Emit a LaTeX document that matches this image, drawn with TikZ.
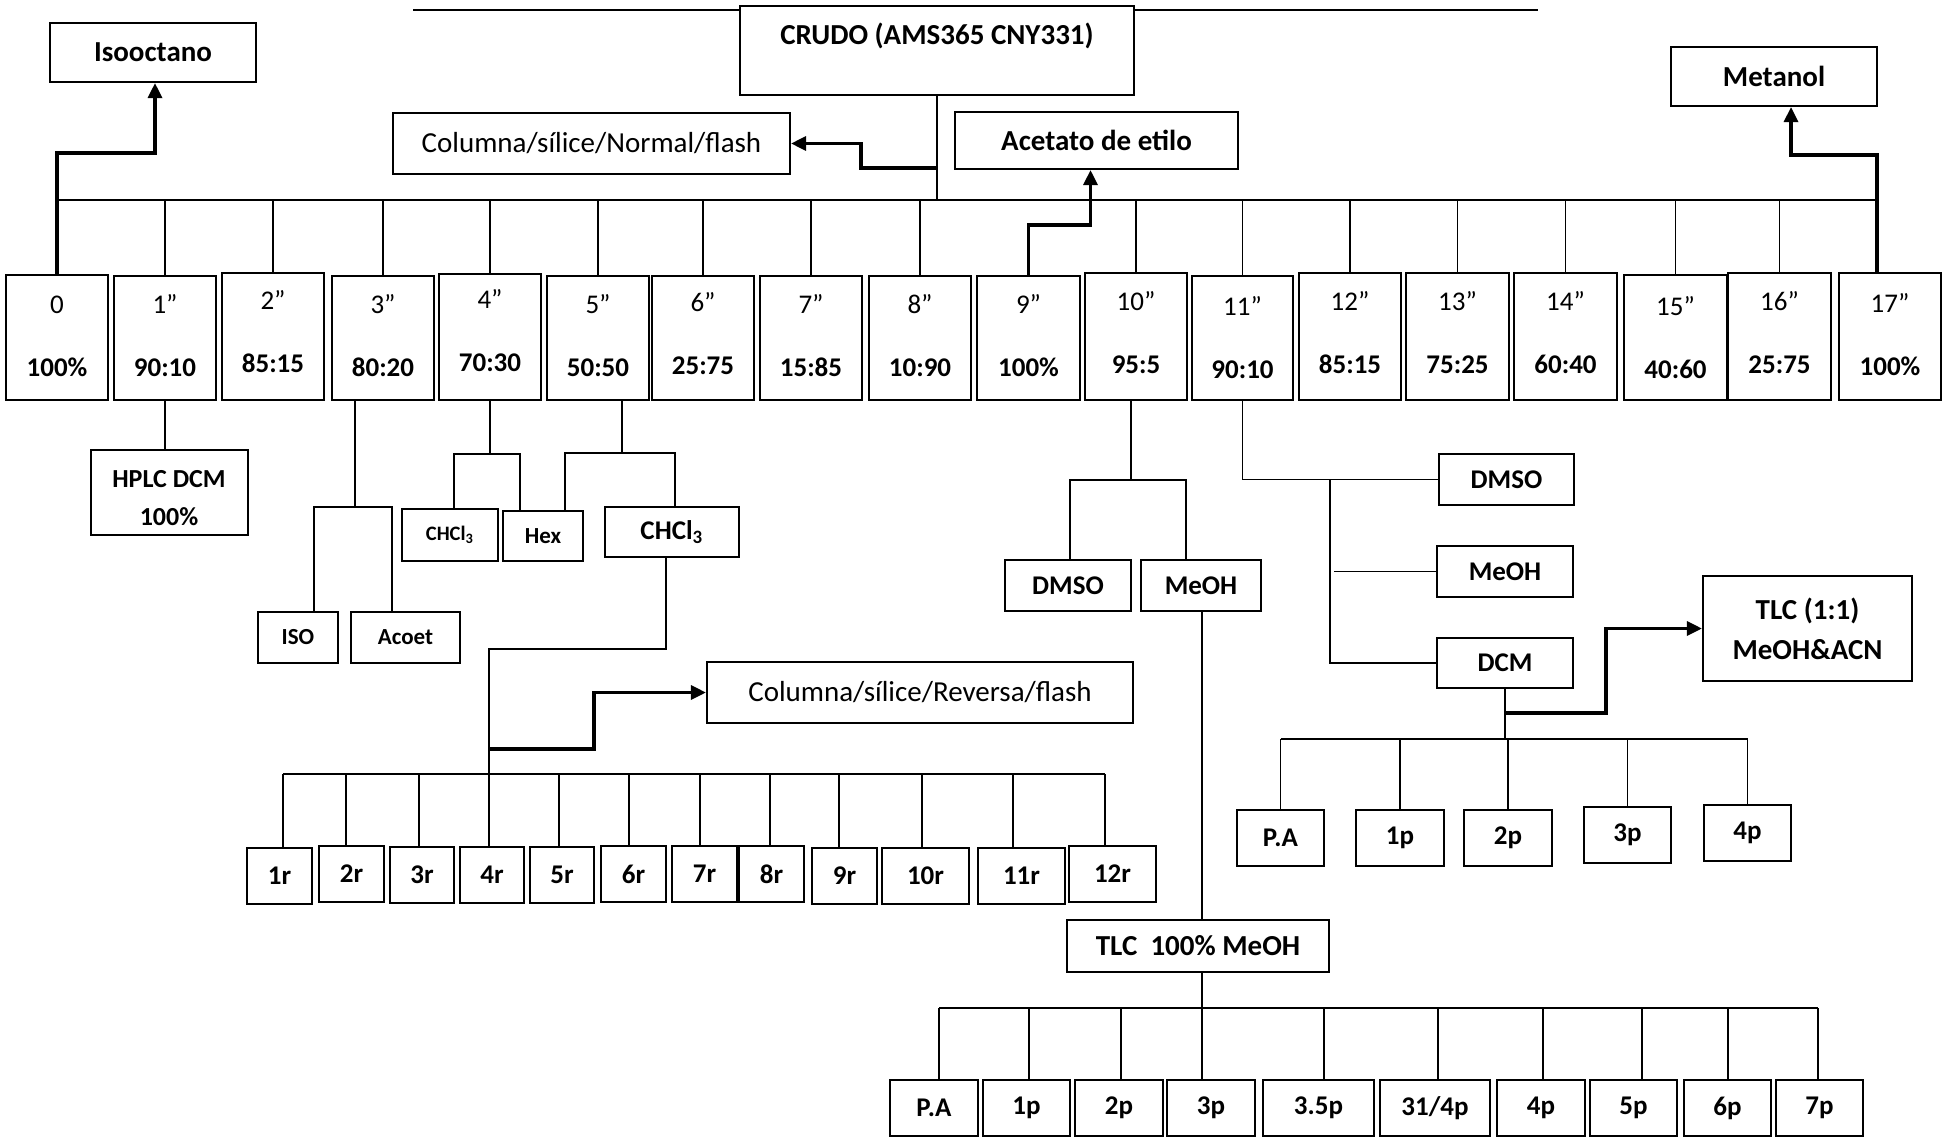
\documentclass[tikz,border=0pt]{standalone}
\usepackage{fontspec}
\setmainfont{Carlito}
\usetikzlibrary{arrows.meta,calc}

% box given by its corners (x1,y1) and (x2,y2), named, with text
\newcommand\boxat[7][]{%
  \node[box,#1,minimum width={(#4-#2)*0.4pt},minimum height={(#5-#3)*0.4pt}]
    (#6) at ({(#2+#4)/2},{(#3+#5)/2}) {#7};}

\begin{document}
\begin{tikzpicture}[x=0.4pt,y=-0.4pt,
  box/.style={draw,line width=0.85pt,fill=white,inner sep=0pt,align=center,
    font=\bfseries\fontsize{10.8}{13}\selectfont},
  big/.style={font=\bfseries\fontsize{11.6}{16}\selectfont},
  plain/.style={font=\fontsize{11.6}{14}\selectfont},
  small/.style={font=\bfseries\fontsize{9.2}{11}\selectfont},
  tiny/.style={font=\bfseries\fontsize{8.2}{10}\selectfont},
  link/.style={line width=0.7pt},
  busline/.style={line width=0.8pt},
  arr/.style={line width=1.3pt,-{Triangle[width=5.6pt,length=6pt]}},
  rowtxt/.style={align=center,inner sep=0pt,font=\fontsize{10.8}{25.2}\selectfont},
]
\useasboundingbox (0,0) rectangle (1944,1139);

% ---------- header ----------
\boxat{740}{6}{1134}{95}{crudo}{}
\node[big,inner sep=0pt] (crudotxt) at (937,36) {CRUDO (AMS365 CNY331)};
\coordinate (ruleL) at (413,10);
\coordinate (ruleR) at (1538,10);
\draw[line width=0.9pt] (ruleL) -- (crudo.west |- ruleL);
\draw[line width=0.9pt] (crudo.east |- ruleR) -- (ruleR);

\boxat[big]{50}{23}{256}{82}{iso}{Isooctano}
\boxat[plain]{393}{113}{790}{174}{colN}{Columna/sílice/Normal/flash}
\boxat[big]{955}{112}{1238}{169}{acet}{Acetato de etilo}
\boxat[big]{1671}{47}{1877}{106}{meta}{Metanol}

% ---------- fractions of the first column ----------
\foreach \nm/\xa/\xb/\ty/\dy/\la/\lb in {
  0/6/108/275/0/0/100\%,
  1/114/216/276/0/1”/90:10,
  2/222/324/273/-4/2”/85:15,
  3/332/434/276/0/3”/80:20,
  4/439/541/274/-5/4”/70:30,
  5/547/649/276/0/5”/50:50,
  6/652/754/276/-2/6”/25:75,
  7/760/862/276/0/7”/15:85,
  8/869/971/276/0/8”/10:90,
  9/977/1080/276/0/9”/100\%,
  10/1085/1187/273/-3/10”/95:5,
  11/1192/1293/276/2/11”/90:10,
  12/1299/1401/273/-3/12”/85:15,
  13/1406/1509/273/-3/13”/75:25,
  14/1514/1617/273/-3/14”/60:40,
  15/1624/1727/275/2/15”/40:60,
  16/1728/1831/273/-3/16”/25:75,
  17/1839/1941/273/-1/17”/100\%}
{
  \node[draw,line width=0.85pt,inner sep=0pt,
        minimum width={(\xb-\xa)*0.4pt},minimum height={(400-\ty)*0.4pt}]
        (b\nm) at ({(\xa+\xb)/2},{(\ty+400)/2}) {};
  \node[rowtxt] (l\nm) at ({(\xa+\xb)/2},{336+\dy}) {\la\\\textbf{\lb}};
}

\coordinate (s17) at (1877,273);
\draw[busline] (b0.north |- 0,200) -- (s17 |- 0,200);
\draw[link] (crudo.south) -- (crudo.south |- 0,200);
\foreach \nm in {1,2,3,4,5,6,7,8,10,11,12,13,14,15,16}
  \draw[link] (b\nm.north) -- (b\nm.north |- 0,200);

\draw[arr] (b0.north) -- (b0.north |- 0,153) -| ($(iso.south)+(2,0)$);
\draw[arr] (b9.north) -- (b9.north |- 0,225) -| ($(acet.south)+(-6,0)$);
\draw[arr] (s17) -- (s17 |- 0,155) -| ($(meta.south)+(17,0)$);
\draw[arr] (crudo.south |- 0,168) -- (861,168) |- (colN.east);

% ---------- 1'' ----------
\boxat{91}{450}{248}{535}{hplc}{}
\node[align=center,inner sep=0pt,font=\bfseries\fontsize{10.4}{15.2}\selectfont]
  (hplctxt) at (169,498) {HPLC DCM\\100\%};
\draw[link] (b1.south) -- (b1.south |- hplc.north);

% ---------- 3'' ----------
\boxat[small]{258}{612}{338}{663}{isob}{ISO}
\boxat[small]{351}{612}{460}{663}{acoet}{Acoet}
\draw[link] (b3.south -| 355,0) -- (355,507);
\draw[link] (isob.north -| 314,0) -- (314,507) -- (392,507) -- (acoet.north -| 392,0);

% ---------- 4'' ----------
\boxat[tiny]{402}{509}{498}{561}{chs}{CHCl\textsubscript{3}}
\boxat[small]{503}{511}{583}{561}{hex}{Hex}
\draw[link] (b4.south) -- (b4.south |- 0,454);
\draw[link] (chs.north -| 454,0) -- (454,454) -- (520,454) -- (hex.north -| 520,0);

% ---------- 5'' ----------
\boxat{605}{507}{739}{557}{chb}{CHCl\textsubscript{3}}
\draw[link] (b5.south -| 622,0) -- (622,453);
\draw[link] (hex.north -| 565,0) -- (565,453) -- (675,453) -- (chb.north -| 675,0);

\boxat[plain]{707}{662}{1133}{723}{colR}{Columna/sílice/Reversa/flash}
\foreach \rr/\xa/\xb/\ya/\sx in {1/247/312/848/283, 2/319/384/846/346,
    3/390/454/847/419, 4/460/524/847/489, 5/530/594/847/559, 6/601/666/846/629,
    7/672/737/846/700, 8/739/804/846/770, 9/812/877/848/839, 10/882/969/848/922,
    11/978/1065/848/1013, 12/1069/1156/846/1105}
{
  \boxat{\xa}{\ya}{\xb}{\ya+56}{r\rr}{\rr r}
  \draw[link] (r\rr.north -| \sx,0) -- (\sx,774);
}
\coordinate (rbusL) at (283,774);
\coordinate (rbusR) at (1105,774);
\draw[busline] (rbusL) -- (rbusR);
\draw[link] (chb.south -| 666,0) -- (666,649) -- (489,649) -- (r4.north -| 489,0);
\coordinate (tap) at (489,749);
\draw[arr] (tap) -- (594,749) |- (colR.west);

% ---------- 10'' ----------
\boxat{1005}{560}{1131}{611}{dmsoL}{DMSO}
\boxat{1141}{560}{1261}{611}{meohL}{MeOH}
\draw[link] (b10.south -| 1131,0) -- (1131,480);
\draw[link] (dmsoL.north -| 1070,0) -- (1070,480) -- (1186,480) -- (meohL.north -| 1186,0);
\boxat[big]{1067}{920}{1329}{972}{tlcM}{TLC\ \ 100\% MeOH}
\draw[link] (meohL.south -| 1202,0) -- (tlcM.north -| 1202,0);
\draw[link] (tlcM.south -| 1202,0) -- (1202,1008);
\foreach \i/\xa/\xb/\sx/\tx in {1/890/978/939/P.A, 2/983/1070/1029/1p,
    3/1075/1163/1121/2p, 4/1167/1255/1202/3p, 5/1263/1374/1324/3.5p,
    6/1380/1490/1438/{31/4p}, 7/1497/1585/1543/4p, 8/1590/1677/1642/5p,
    9/1684/1771/1728/6p, 10/1776/1863/1818/7p}
{
  \boxat{\xa}{1080}{\xb}{1136}{q\i}{\tx}
  \draw[link] (q\i.north -| \sx,0) -- (\sx,1008);
}
\coordinate (qbusL) at (939,1008);
\coordinate (qbusR) at (1818,1008);
\draw[busline] (qbusL) -- (qbusR);

% ---------- 11'' ----------
\boxat{1439}{454}{1574}{505}{dmsoR}{DMSO}
\boxat{1437}{546}{1573}{597}{meohR}{MeOH}
\boxat{1437}{638}{1573}{688}{dcm}{DCM}
\draw[link] (b11.south) |- (dmsoR.west);
\draw[link] (dmsoR.west -| 1330,0) |- (dcm.west);
\draw[link] (meohR.west -| 1334,0) -- (meohR.west);

\boxat[font=\bfseries\fontsize{11.6}{16}\selectfont]{1703}{576}{1912}{681}{tlcA}{TLC (1:1)\\MeOH\&ACN}
\draw[link] (dcm.south) -- (dcm.south |- 0,739);
\draw[arr] (dcm.south |- 0,713) -- (1606,713) |- (tlcA.west);
\foreach \i/\xa/\xb/\ya/\tx in {1/1237/1324/810/P.A, 2/1356/1444/810/1p,
    3/1464/1552/810/2p, 4/1584/1671/807/3p, 5/1704/1791/805/4p}
{
  \boxat{\xa}{\ya}{\xb}{\ya+56}{s\i}{\tx}
  \draw[link] (s\i.north) -- (s\i.north |- 0,739);
}
\draw[busline] (s1.north |- 0,739) -- (s5.north |- 0,739);
\end{tikzpicture}
\end{document}
